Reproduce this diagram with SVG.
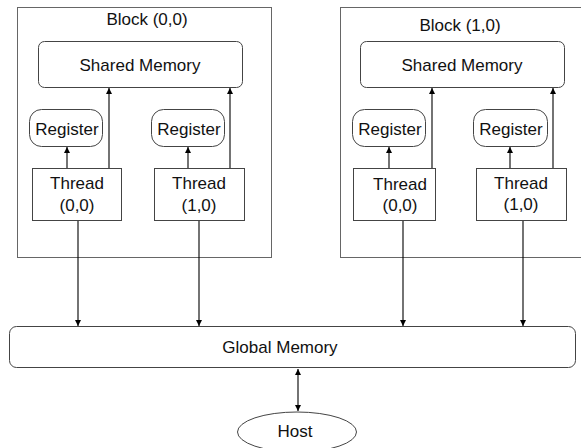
<svg xmlns="http://www.w3.org/2000/svg" width="581" height="448" viewBox="0 0 581 448">
<style>
.blk{fill:#fff;stroke:#666;stroke-width:1}
.box{fill:#fff;stroke:#444;stroke-width:1}
.t{font-family:"Liberation Sans",Arial,Helvetica,sans-serif;font-size:17px;fill:#111;text-anchor:middle}
.c{fill:none;stroke:#000;stroke-width:1.1}
</style>
<defs>
<marker id="ah" viewBox="0 0 8 8" refX="8" refY="4" markerWidth="6" markerHeight="6" markerUnits="userSpaceOnUse" orient="auto">
<path d="M0,0 L8,4 L0,8 Z" fill="#000"/>
</marker>
<marker id="as" viewBox="0 0 8 8" refX="0" refY="4" markerWidth="6" markerHeight="6" markerUnits="userSpaceOnUse" orient="auto">
<path d="M8,0 L0,4 L8,8 Z" fill="#000"/>
</marker>
</defs>
<g id="block00">
<rect class="blk" x="17.5" y="7.5" width="254" height="250"/>
<text class="t" x="147" y="25">Block (0,0)</text>
</g>
<g id="block10">
<rect class="blk" x="340.5" y="7.5" width="250" height="250"/>
<text class="t" x="460" y="31">Block (1,0)</text>
</g>
<g id="shared00">
<rect class="box" x="38.5" y="41.5" width="204" height="46" rx="6"/>
<text class="t" x="140" y="71">Shared Memory</text>
</g>
<g id="shared10">
<rect class="box" x="360.5" y="41.5" width="204" height="46" rx="6"/>
<text class="t" x="462" y="71">Shared Memory</text>
</g>
<g id="reg00">
<rect class="box" x="29.5" y="109.5" width="73" height="37" rx="12"/>
<text class="t" x="67" y="135">Register</text>
</g>
<g id="reg01">
<rect class="box" x="151.5" y="109.5" width="73" height="37" rx="12"/>
<text class="t" x="189" y="135">Register</text>
</g>
<g id="reg10">
<rect class="box" x="352.5" y="109.5" width="73" height="37" rx="12"/>
<text class="t" x="390" y="135">Register</text>
</g>
<g id="reg11">
<rect class="box" x="473.5" y="109.5" width="74" height="37" rx="12"/>
<text class="t" x="511" y="135">Register</text>
</g>
<g id="thread00">
<rect class="box" x="32.5" y="168.5" width="89" height="52"/>
<text class="t" x="77" y="189">Thread</text>
<text class="t" x="77" y="211">(0,0)</text>
</g>
<g id="thread01">
<rect class="box" x="154.5" y="168.5" width="90" height="52"/>
<text class="t" x="199" y="189">Thread</text>
<text class="t" x="199" y="211">(1,0)</text>
</g>
<g id="thread10">
<rect class="box" x="353.5" y="168.5" width="82" height="52"/>
<text class="t" x="400" y="190">Thread</text>
<text class="t" x="400" y="211">(0,0)</text>
</g>
<g id="thread11">
<rect class="box" x="476.5" y="168.5" width="90" height="52"/>
<text class="t" x="521" y="189">Thread</text>
<text class="t" x="521" y="210">(1,0)</text>
</g>
<g id="global">
<rect class="box" x="9.5" y="326.5" width="566" height="41" rx="7"/>
<text class="t" x="280" y="353">Global Memory</text>
</g>
<g id="host">
<ellipse class="box" cx="297" cy="432" rx="59.5" ry="20"/>
<text class="t" x="295" y="437">Host</text>
</g>
<g id="connectors">
<line class="c" x1="67" y1="168" x2="67" y2="147" marker-end="url(#ah)"/>
<line class="c" x1="109" y1="168" x2="109" y2="88" marker-end="url(#ah)"/>
<line class="c" x1="188" y1="168" x2="188" y2="147" marker-end="url(#ah)"/>
<line class="c" x1="230" y1="168" x2="230" y2="88" marker-end="url(#ah)"/>
<line class="c" x1="389" y1="168" x2="389" y2="147" marker-end="url(#ah)"/>
<line class="c" x1="432" y1="168" x2="432" y2="88" marker-end="url(#ah)"/>
<line class="c" x1="510" y1="168" x2="510" y2="147" marker-end="url(#ah)"/>
<line class="c" x1="553" y1="168" x2="553" y2="88" marker-end="url(#ah)"/>
<line class="c" x1="78" y1="221" x2="78" y2="326" marker-end="url(#ah)"/>
<line class="c" x1="199" y1="221" x2="199" y2="326" marker-end="url(#ah)"/>
<line class="c" x1="403" y1="221" x2="403" y2="326" marker-end="url(#ah)"/>
<line class="c" x1="523" y1="221" x2="523" y2="326" marker-end="url(#ah)"/>
<line class="c" x1="298" y1="369" x2="298" y2="411" marker-start="url(#as)" marker-end="url(#ah)"/>
</g>
</svg>
